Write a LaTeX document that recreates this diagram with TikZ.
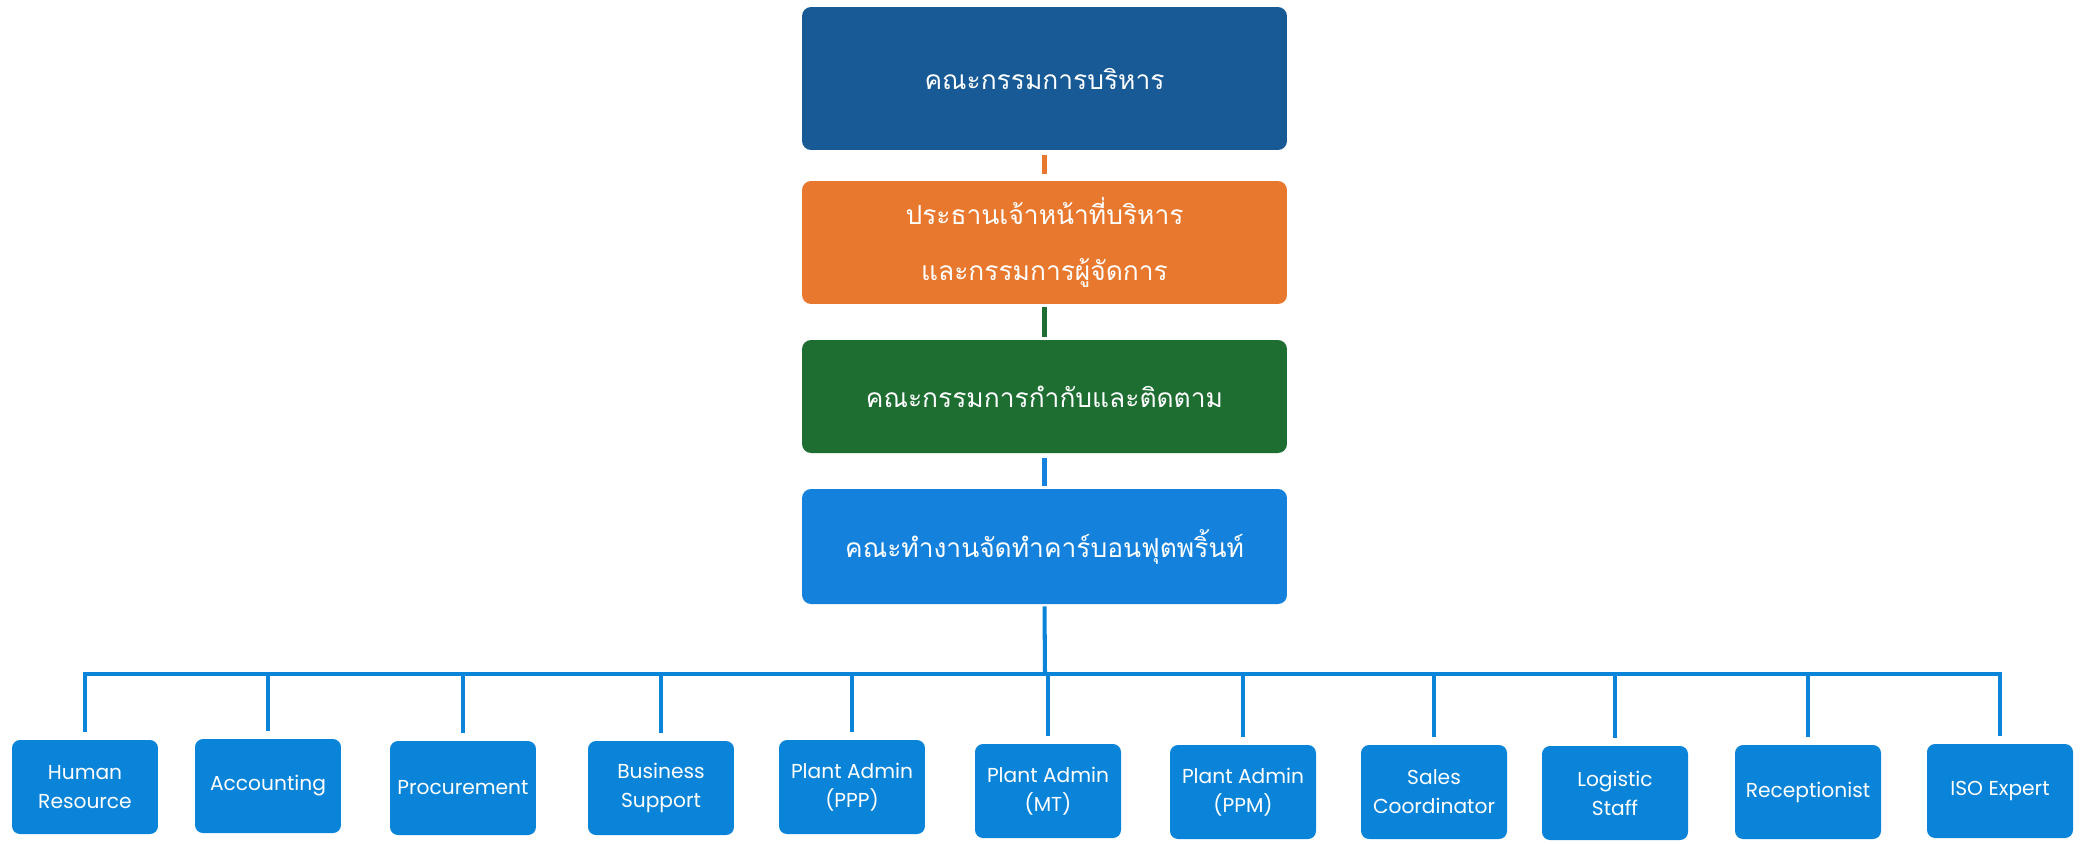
\documentclass[tikz,border=0pt]{standalone}
\usepackage{fontspec}
\setmainfont{Poppins}
\newfontfamily\thaifont[Script=Thai]{Loma}
\definecolor{cDark}{HTML}{175A96}
\definecolor{cOrange}{HTML}{E8782D}
\definecolor{cGreen}{HTML}{1E6E32}
\definecolor{cBlue}{HTML}{1482DC}
\definecolor{cLeaf}{HTML}{0A84D8}
\begin{document}
\begin{tikzpicture}[x=0.02cm,y=-0.02cm,
  topbox/.style={rounded corners=0.18cm, minimum width=9.7cm, text=white, align=center, font=\thaifont\fontsize{15}{32}\selectfont, inner sep=0pt},
  leafbox/.style={rounded corners=0.16cm, fill=cLeaf, minimum width=2.92cm, minimum height=1.88cm, text=white, align=center, font=\fontsize{11.5}{16.5}\selectfont, inner sep=0pt},
  conn/.style={line width=2.3pt},
  drop/.style={line width=2.3pt, draw=cLeaf, shorten >=0.16cm}]
\useasboundingbox (0,0) rectangle (2082,843);
\fill[white] (0,0) rectangle (2082,843);

\node[topbox, fill=cDark, minimum height=2.86cm] (board) at (1044.5,78.5) {คณะกรรมการบริหาร};
\node[topbox, fill=cOrange, minimum height=2.46cm] (ceo) at (1044.5,242.5) {ประธานเจ้าหน้าที่บริหาร\\และกรรมการผู้จัดการ};
\node[topbox, fill=cGreen, minimum height=2.26cm] (monitor) at (1044.5,396.5) {คณะกรรมการกำกับและติดตาม};
\node[topbox, fill=cBlue, minimum height=2.3cm] (work) at (1044.5,546.5) {คณะทำงานจัดทำคาร์บอนฟุตพริ้นท์};

\draw[conn, cOrange, shorten >=0.14cm, shorten <=0.1cm] (board.south) -- (ceo.north);
\draw[conn, cGreen, shorten >=0.06cm, shorten <=0.06cm] (ceo.south) -- (monitor.north);
\draw[conn, cBlue, shorten >=0.06cm, shorten <=0.1cm] (monitor.south) -- (work.north);

\node[leafbox] (hr) at (85,787) {Human\\Resource};
\node[leafbox] (acc) at (268,786) {Accounting};
\node[leafbox] (proc) at (463,788) {Procurement};
\node[leafbox] (bs) at (661,788) {Business\\Support};
\node[leafbox] (ppp) at (852,787) {Plant Admin\\(PPP)};
\node[leafbox] (mt) at (1048,791) {Plant Admin\\(MT)};
\node[leafbox] (ppm) at (1243,792) {Plant Admin\\(PPM)};
\node[leafbox] (sales) at (1434,792) {Sales\\Coordinator};
\node[leafbox] (log) at (1615,793) {Logistic\\Staff};
\node[leafbox] (rec) at (1808,792) {Receptionist};
\node[leafbox] (iso) at (2000,791) {ISO Expert};

\coordinate (busC) at (1045,674);
\coordinate (busL) at (85,674);
\coordinate (busR) at (2000,674);
\draw[conn, cLeaf, shorten <=0.04cm] (work.south) -- (busC);
\draw[conn, cLeaf, line cap=rect] (busL) -- (busR);
\foreach \b in {hr,acc,proc,bs,ppp,mt,ppm,sales,log,rec,iso}
  \draw[drop] (\b.north |- busC) -- (\b.north);
\end{tikzpicture}
\end{document}
